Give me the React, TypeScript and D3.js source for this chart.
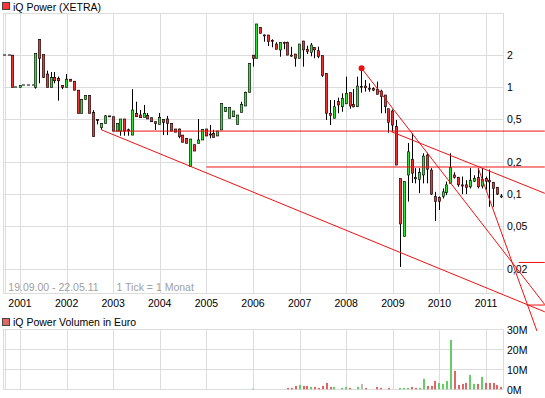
import React from 'react';
import * as d3 from 'd3';

const W = 545;
const H = 398;

const title = 'iQ Power (XETRA)';
const volumeTitle = 'iQ Power Volumen in Euro';
const rangeText = '19.09.00 - 22.05.11';
const tickText = '1 Tick = 1 Monat';

const dataStart = '2000-09';

// month, open, high, low, close (EUR)
const candles: [string, number, number, number, number][] = [
  ['2000-11', 2.0, 2.0, 1.0, 1.0],
  ['2001-01', 1.0, 1.04, 1.0, 1.04],
  ['2001-05', 1.0, 2.08, 0.97, 2.08],
  ['2001-06', 2.81, 2.81, 1.09, 1.87],
  ['2001-07', 2.02, 2.02, 1.22, 1.24],
  ['2001-08', 1.33, 1.43, 1.0, 1.0],
  ['2001-09', 1.0, 1.39, 1.0, 1.24],
  ['2001-10', 1.24, 1.39, 1.09, 1.15],
  ['2001-11', 1.21, 1.26, 0.75, 1.15],
  ['2001-12', 1.04, 1.04, 0.96, 1.0],
  ['2002-01', 1.0, 1.33, 1.0, 1.19],
  ['2002-02', 1.19, 1.19, 1.14, 1.14],
  ['2002-03', 1.14, 1.14, 0.94, 0.94],
  ['2002-04', 0.94, 0.94, 0.57, 0.57],
  ['2002-05', 0.57, 0.77, 0.57, 0.77],
  ['2002-06', 0.77, 0.84, 0.77, 0.84],
  ['2002-07', 0.84, 0.84, 0.57, 0.57],
  ['2002-08', 0.58, 0.61, 0.345, 0.345],
  ['2002-09', 0.5, 0.5, 0.45, 0.495],
  ['2002-10', 0.42, 0.46, 0.4, 0.46],
  ['2002-11', 0.46, 0.55, 0.46, 0.54],
  ['2002-12', 0.54, 0.54, 0.53, 0.535],
  ['2003-01', 0.53, 0.53, 0.389, 0.389],
  ['2003-02', 0.389, 0.46, 0.389, 0.46],
  ['2003-03', 0.389, 0.505, 0.352, 0.505],
  ['2003-04', 0.505, 0.505, 0.352, 0.389],
  ['2003-05', 0.4, 0.41, 0.352, 0.398],
  ['2003-06', 0.357, 0.96, 0.357, 0.613],
  ['2003-07', 0.571, 0.733, 0.53, 0.53],
  ['2003-08', 0.55, 0.613, 0.519, 0.519],
  ['2003-09', 0.524, 0.683, 0.524, 0.571],
  ['2003-10', 0.542, 0.575, 0.505, 0.505],
  ['2003-11', 0.519, 0.519, 0.476, 0.476],
  ['2003-12', 0.476, 0.476, 0.398, 0.46],
  ['2004-01', 0.45, 0.575, 0.45, 0.524],
  ['2004-02', 0.5, 0.5, 0.357, 0.47],
  ['2004-03', 0.505, 0.54, 0.357, 0.46],
  ['2004-04', 0.46, 0.46, 0.389, 0.389],
  ['2004-05', 0.407, 0.407, 0.38, 0.38],
  ['2004-06', 0.407, 0.41, 0.333, 0.345],
  ['2004-07', 0.357, 0.357, 0.306, 0.306],
  ['2004-08', 0.333, 0.333, 0.299, 0.299],
  ['2004-09', 0.181, 0.328, 0.18, 0.328],
  ['2004-10', 0.29, 0.29, 0.253, 0.253],
  ['2004-11', 0.299, 0.505, 0.299, 0.321],
  ['2004-12', 0.321, 0.402, 0.321, 0.402],
  ['2005-01', 0.407, 0.407, 0.35, 0.35],
  ['2005-02', 0.365, 0.443, 0.333, 0.362],
  ['2005-03', 0.371, 0.4, 0.34, 0.34],
  ['2005-04', 0.35, 0.39, 0.35, 0.39],
  ['2005-05', 0.398, 0.708, 0.398, 0.708],
  ['2005-06', 0.591, 0.65, 0.591, 0.65],
  ['2005-07', 0.513, 0.65, 0.513, 0.65],
  ['2005-08', 0.53, 0.6, 0.53, 0.6],
  ['2005-09', 0.45, 0.55, 0.45, 0.55],
  ['2005-10', 0.583, 0.733, 0.583, 0.693],
  ['2005-11', 0.668, 0.91, 0.668, 0.898],
  ['2005-12', 0.898, 1.678, 0.898, 1.678],
  ['2006-01', 2.0, 2.0, 1.559, 1.869],
  ['2006-02', 1.869, 3.915, 1.869, 3.915],
  ['2006-03', 3.646, 3.646, 3.203, 3.203],
  ['2006-04', 3.09, 3.12, 2.673, 3.05],
  ['2006-05', 3.089, 3.089, 2.436, 2.673],
  ['2006-06', 2.75, 2.814, 2.369, 2.72],
  ['2006-07', 2.543, 2.638, 2.269, 2.269],
  ['2006-08', 2.235, 2.638, 1.934, 2.638],
  ['2006-09', 2.638, 2.673, 2.269, 2.62],
  ['2006-10', 2.638, 2.673, 2.0, 2.0],
  ['2006-11', 2.0, 2.399, 1.934, 1.98],
  ['2006-12', 2.05, 2.05, 1.559, 1.869],
  ['2007-01', 1.869, 2.543, 1.869, 2.543],
  ['2007-02', 2.714, 2.714, 1.559, 2.235],
  ['2007-03', 2.269, 2.45, 2.05, 2.154],
  ['2007-04', 2.126, 2.6, 1.95, 2.489],
  ['2007-05', 2.369, 2.369, 1.869, 2.235],
  ['2007-06', 2.2, 2.4, 1.87, 1.934],
  ['2007-07', 1.976, 1.976, 1.25, 1.284],
  ['2007-08', 1.352, 1.352, 0.494, 0.571],
  ['2007-09', 0.571, 0.76, 0.443, 0.545],
  ['2007-10', 0.513, 0.76, 0.513, 0.658],
  ['2007-11', 0.733, 0.8, 0.571, 0.683],
  ['2007-12', 0.658, 0.879, 0.59, 0.789],
  ['2008-01', 0.7, 1.257, 0.7, 0.879],
  ['2008-02', 0.89, 0.89, 0.63, 0.668],
  ['2008-03', 0.693, 0.964, 0.65, 0.655],
  ['2008-04', 0.658, 1.257, 0.658, 1.028],
  ['2008-05', 1.02, 1.506, 0.89, 1.005],
  ['2008-06', 1.028, 1.17, 0.91, 0.99],
  ['2008-07', 0.98, 1.09, 0.91, 0.965],
  ['2008-08', 0.97, 1.0, 0.92, 0.94],
  ['2008-09', 0.96, 1.13, 0.86, 0.86],
  ['2008-10', 0.923, 0.95, 0.571, 0.817],
  ['2008-11', 0.847, 0.847, 0.571, 0.658],
  ['2008-12', 0.63, 0.63, 0.376, 0.47],
  ['2009-01', 0.6, 0.62, 0.384, 0.443],
  ['2009-02', 0.428, 0.494, 0.187, 0.187],
  ['2009-03', 0.14, 0.14, 0.0208, 0.0525],
  ['2009-04', 0.04, 0.131, 0.04, 0.131],
  ['2009-05', 0.151, 0.301, 0.085, 0.249],
  ['2009-06', 0.212, 0.371, 0.127, 0.157],
  ['2009-07', 0.143, 0.175, 0.126, 0.139],
  ['2009-08', 0.137, 0.175, 0.102, 0.159],
  ['2009-09', 0.151, 0.241, 0.126, 0.227],
  ['2009-10', 0.232, 0.244, 0.126, 0.171],
  ['2009-11', 0.168, 0.175, 0.098, 0.1],
  ['2009-12', 0.095, 0.105, 0.056, 0.085],
  ['2010-01', 0.093, 0.095, 0.071, 0.0855],
  ['2010-02', 0.095, 0.113, 0.091, 0.105],
  ['2010-03', 0.103, 0.131, 0.098, 0.122],
  ['2010-04', 0.126, 0.241, 0.126, 0.177],
  ['2010-05', 0.151, 0.16, 0.14, 0.143],
  ['2010-06', 0.143, 0.145, 0.117, 0.122],
  ['2010-07', 0.122, 0.146, 0.1, 0.119],
  ['2010-08', 0.122, 0.135, 0.1, 0.115],
  ['2010-09', 0.117, 0.175, 0.113, 0.135],
  ['2010-10', 0.132, 0.15, 0.13, 0.14],
  ['2010-11', 0.143, 0.175, 0.113, 0.117],
  ['2010-12', 0.119, 0.175, 0.113, 0.137],
  ['2011-01', 0.14, 0.146, 0.11, 0.132],
  ['2011-02', 0.135, 0.17, 0.076, 0.13],
  ['2011-03', 0.129, 0.13, 0.076, 0.113],
  ['2011-04', 0.116, 0.116, 0.098, 0.1],
  ['2011-05', 0.096, 0.1, 0.092, 0.096],
];

// month, volume in million EUR, direction (1 up, -1 down, 0 unchanged)
const volumes: [string, number, number][] = [
  ['2006-01', 0.3, 1],
  ['2006-10', 0.7, -1], ['2006-11', 0.7, -1], ['2006-12', 1.7, -1],
  ['2007-01', 2.2, 1], ['2007-02', 1.7, -1], ['2007-03', 1.7, -1], ['2007-04', 1.2, 1],
  ['2007-05', 1.2, -1], ['2007-06', 0.7, -1], ['2007-07', 1.7, -1], ['2007-08', 3.2, -1],
  ['2007-09', 1.2, -1], ['2007-10', 1.2, 1], ['2007-12', 0.7, 1],
  ['2008-01', 1.2, 1], ['2008-02', 0.7, -1], ['2008-04', 1.2, 1], ['2008-05', 2.7, 0],
  ['2008-06', 0.7, -1], ['2008-09', 1.2, -1], ['2008-10', 0.7, -1], ['2008-12', 0.7, -1],
  ['2009-03', 0.7, 1], ['2009-04', 0.7, 1], ['2009-05', 0.7, 1], ['2009-06', 1.2, -1],
  ['2009-07', 0.7, -1], ['2009-08', 0.7, 1], ['2009-09', 5.2, 1], ['2009-10', 1.7, -1],
  ['2009-11', 1.7, -1], ['2009-12', 4.2, -1],
  ['2010-01', 3.2, 1], ['2010-02', 2.7, 1], ['2010-03', 4.2, 1], ['2010-04', 24.7, 1],
  ['2010-05', 9.2, -1], ['2010-06', 2.2, -1], ['2010-07', 2.7, -1], ['2010-08', 3.2, -1],
  ['2010-09', 7.2, 1], ['2010-10', 2.7, 1], ['2010-11', 2.7, -1], ['2010-12', 6.2, 1],
  ['2011-01', 3.2, -1], ['2011-02', 3.2, -1], ['2011-03', 3.2, -1], ['2011-04', 2.2, -1],
  ['2011-05', 1.2, -1],
];

const yearTicks = [2001, 2002, 2003, 2004, 2005, 2006, 2007, 2008, 2009, 2010, 2011];
const priceTicks = [2, 1, 0.5, 0.2, 0.1, 0.05, 0.02];
const volumeTicks = [0, 10, 20, 30];

// trend lines: start date, start price, end date, end price
const trendLines: [string, number, string, number][] = [
  ['2003-01-01', 0.389, '2012-04-06', 0.389],
  ['2005-01-01', 0.1794, '2012-04-06', 0.1794],
  ['2002-10-01', 0.4, '2012-04-06', 0.0079],
  ['2008-05-01', 1.506, '2012-04-06', 0.00923],
  ['2008-12-20', 0.384, '2012-04-06', 0.1017],
  ['2010-11-01', 0.175, '2012-02-04', 0.00523],
  ['2011-09-15', 0.0229, '2012-04-06', 0.0229],
  ['2011-11-16', 0.00915, '2012-04-06', 0.00915],
];
const markerPoint: [string, number] = ['2008-05-01', 1.506];

const parseMonth = d3.timeParse('%Y-%m');
const parseDay = d3.timeParse('%Y-%m-%d');

const FONT = 'Liberation Sans, Arial, sans-serif';
const GRID = '#dcdcdc';
const RED = '#ee3333';
const GREEN = '#33e033';
const LINE = '#ee1111';

export default function App() {
  const left = 3, right = 503, top = 13, bottom = 293;
  const vTop = 329.3, vBottom = 389.3;

  const x = d3.scaleTime()
    .domain([new Date(2001, 0, 1), new Date(2011, 0, 1)])
    .range([20, 486]);
  const y = d3.scaleLog().domain([0.01186, 4.96]).range([bottom, top]);
  const yv = d3.scaleLinear().domain([0, 30]).range([vBottom, vTop]);

  const crisp = (v: number) => Math.round(v) + 0.5;
  const fmt = (v: number) => String(v).replace('.', ',');

  const rows = candles.map(([m, o, h, l, c]) => ({ date: parseMonth(m)!, o, h, l, c }));

  // dashed segments for months without trades
  const dashes: { x1: number; x2: number; v: number }[] = [];
  const startDate = parseMonth(dataStart)!;
  if (rows[0].date > startDate) {
    dashes.push({ x1: left, x2: Math.floor(x(rows[0].date)) - 1, v: rows[0].o });
  }
  for (let i = 1; i < rows.length; i++) {
    const gap = d3.timeMonth.count(rows[i - 1].date, rows[i].date);
    if (gap > 1) {
      dashes.push({
        x1: Math.floor(x(rows[i - 1].date)) + 2,
        x2: Math.floor(x(rows[i].date)) - 1,
        v: rows[i - 1].c,
      });
    }
  }

  const volColor = (d: number) => (d > 0 ? '#66cc66' : d < 0 ? '#dd6666' : '#bbbbbb');

  return (
    <svg width={W} height={H} style={{ position: 'absolute', left: 0, top: 0, background: '#fff' }}
      fontFamily={FONT}>
      {/* title */}
      <rect x={2.5} y={2.5} width={7} height={7} fill="#ff3333" stroke="#444" />
      <text x={13} y={10.5} fontSize={10.5} fill="#000">{title}</text>

      {/* main grid */}
      <g stroke={GRID} strokeWidth={1} fill="none">
        <line x1={left + 0.5} x2={left + 0.5} y1={top} y2={bottom} />
        <line x1={left + 2.5} x2={left + 2.5} y1={top} y2={bottom} />
        <line x1={right + 0.5} x2={right + 0.5} y1={top} y2={bottom} />
        <line x1={left} x2={right} y1={top + 0.5} y2={top + 0.5} />
        <line x1={left} x2={right} y1={bottom + 0.5} y2={bottom + 0.5} />
        {yearTicks.map(t => (
          <line key={t} x1={crisp(x(new Date(t, 0, 1)))} x2={crisp(x(new Date(t, 0, 1)))} y1={top} y2={bottom} />
        ))}
        {priceTicks.map(t => (
          <line key={t} x1={left} x2={right} y1={crisp(y(t))} y2={crisp(y(t))} />
        ))}
      </g>

      <text x={8.3} y={290.5} fontSize={10.5} fill="#a0a0a0">{rangeText}</text>
      <text x={116.5} y={290.5} fontSize={10.5} fill="#a0a0a0">{tickText}</text>

      {/* axis labels */}
      {yearTicks.map(t => (
        <text key={t} x={x(new Date(t, 0, 1))} y={306.5} fontSize={10.5} textAnchor="middle" fill="#000">{t}</text>
      ))}
      {priceTicks.map(t => (
        <text key={t} x={507} y={y(t) + 4} fontSize={10.5} fill="#000">{fmt(t)}</text>
      ))}

      {/* flat periods */}
      <g stroke="#000" strokeWidth={1} strokeDasharray="3,2">
        {dashes.map((d, i) => (
          <line key={i} x1={d.x1} x2={d.x2} y1={crisp(y(d.v)) - 0.5} y2={crisp(y(d.v)) - 0.5} />
        ))}
      </g>

      {/* candles */}
      {rows.map((r, i) => {
        const fx = Math.floor(x(r.date));
        const yTop = y(Math.max(r.o, r.c));
        const yBot = y(Math.min(r.o, r.c));
        const hgt = Math.max(yBot - yTop, 1);
        return (
          <g key={i}>
            <line x1={fx + 0.5} x2={fx + 0.5} y1={y(r.h)} y2={y(r.l)} stroke="#000" strokeWidth={1} />
            <rect x={fx - 0.7} y={yTop} width={2.4} height={hgt}
              fill={r.c >= r.o ? GREEN : RED} stroke="#000" strokeWidth={0.6} />
          </g>
        );
      })}

      {/* trend lines */}
      <g stroke={LINE} strokeWidth={1} fill="none">
        {trendLines.map(([d1, p1, d2, p2], i) => (
          <line key={i} x1={x(parseDay(d1)!)} y1={y(p1)} x2={x(parseDay(d2)!)} y2={y(p2)} />
        ))}
      </g>
      <circle cx={x(parseMonth(markerPoint[0].slice(0, 7))!)} cy={y(markerPoint[1])} r={3} fill={LINE} />

      {/* volume panel */}
      <rect x={2.5} y={318.5} width={7} height={7} fill="#dd6666" stroke="#444" />
      <text x={13} y={325.5} fontSize={10.5} fill="#000">{volumeTitle}</text>
      <g stroke={GRID} strokeWidth={1} fill="none">
        <line x1={left + 0.5} x2={left + 0.5} y1={vTop} y2={vBottom} />
        <line x1={left + 2.5} x2={left + 2.5} y1={vTop} y2={vBottom} />
        <line x1={right + 0.5} x2={right + 0.5} y1={vTop} y2={vBottom} />
        {yearTicks.map(t => (
          <line key={t} x1={crisp(x(new Date(t, 0, 1)))} x2={crisp(x(new Date(t, 0, 1)))} y1={vTop} y2={vBottom} />
        ))}
        {volumeTicks.map(t => (
          <line key={t} x1={left} x2={right} y1={Math.round(yv(t)) + 0.5} y2={Math.round(yv(t)) + 0.5} />
        ))}
      </g>
      {volumes.map(([m, v, dir], i) => {
        const fx = Math.round(x(parseMonth(m)!));
        return (
          <rect key={i} x={fx - 1} y={yv(v)} width={2} height={yv(0) - yv(v)} fill={volColor(dir)} />
        );
      })}
      {volumeTicks.map(t => (
        <text key={t} x={507} y={yv(t) + 4.5} fontSize={10.5} fill="#000">{t}M</text>
      ))}
    </svg>
  );
}
